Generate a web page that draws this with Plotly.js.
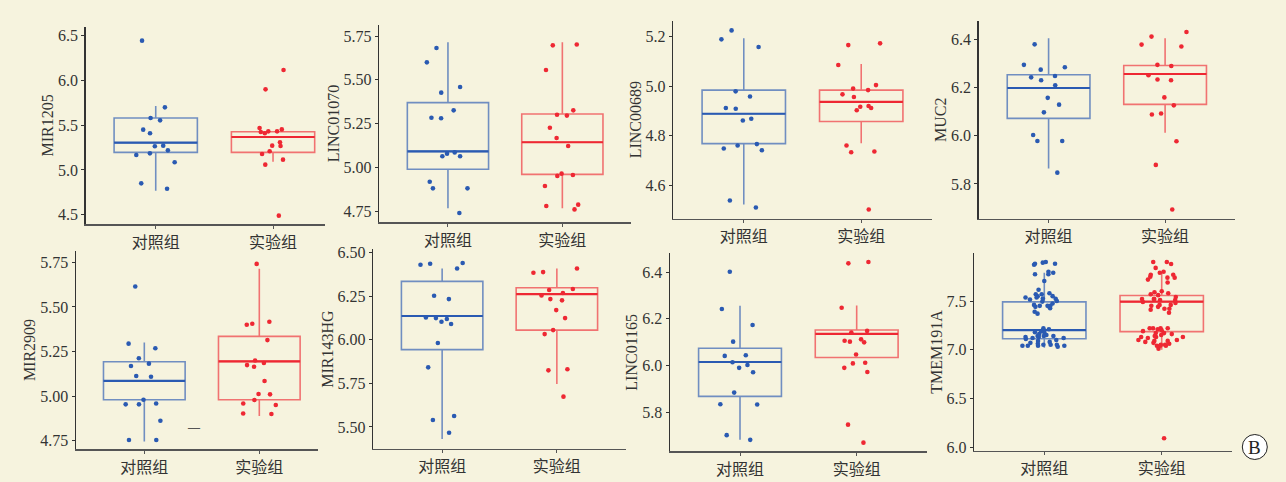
<!DOCTYPE html>
<html>
<head>
<meta charset="utf-8">
<script src="https://cdn.plot.ly/plotly-3.0.1.min.js"></script>
<style>
  html, body { margin: 0; padding: 0; background: #ffffff; }
  #chart { width: 1286px; height: 482px; }
</style>
</head>
<body>
<div id="chart"></div>
<script>
// ---------------- DATA ----------------
const categories = ['对照组', '实验组'];
const genes = ['MIR1205', 'LINC01070', 'LINC00689', 'MUC2', 'MIR2909', 'MIR143HG', 'LINC01165', 'TMEM191A'];

// box stats: [lowerfence, q1, median, q3, upperfence]
const mir1205_ctrlBox = [4.768, 5.196, 5.304, 5.580, 5.714];
const mir1205_expBox  = [5.092, 5.196, 5.368, 5.427, 5.430];
const mir1205_ctrl = [6.444, 5.699, 5.580, 5.554, 5.450, 5.409, 5.271, 5.265, 5.219, 5.185, 5.167, 5.085, 4.850, 4.790];
const mir1205_exp  = [6.116, 5.900, 5.468, 5.453, 5.431, 5.431, 5.424, 5.409, 5.308, 5.271, 5.267, 5.208, 5.178, 5.115, 5.059, 4.489];

const linc01070_ctrlBox = [4.767, 4.990, 5.092, 5.370, 5.714];
const linc01070_expBox  = [4.767, 4.961, 5.144, 5.305, 5.714];
const linc01070_ctrl = [5.682, 5.600, 5.459, 5.427, 5.326, 5.284, 5.281, 5.086, 5.079, 5.064, 5.064, 4.919, 4.881, 4.881, 4.740];
const linc01070_exp  = [5.702, 5.697, 5.556, 5.326, 5.301, 5.296, 5.227, 5.168, 5.123, 4.965, 4.957, 4.952, 4.894, 4.788, 4.780, 4.761];

const linc00689_ctrlBox = [4.524, 4.769, 4.889, 4.984, 5.192];
const linc00689_expBox  = [4.770, 4.858, 4.937, 4.984, 5.089];
const linc00689_ctrl = [5.224, 5.188, 5.157, 4.979, 4.958, 4.912, 4.909, 4.869, 4.862, 4.767, 4.761, 4.749, 4.742, 4.540, 4.512];
const linc00689_exp  = [5.172, 5.165, 5.085, 5.004, 4.990, 4.984, 4.967, 4.956, 4.920, 4.917, 4.912, 4.903, 4.761, 4.737, 4.734, 4.504];

const muc2_ctrlBox = [5.864, 6.072, 6.198, 6.253, 6.404];
const muc2_expBox  = [6.012, 6.130, 6.256, 6.291, 6.404];
const muc2_ctrl = [6.379, 6.294, 6.284, 6.274, 6.248, 6.242, 6.230, 6.209, 6.157, 6.129, 6.097, 6.003, 5.978, 5.978, 5.847];
const muc2_exp  = [6.430, 6.411, 6.378, 6.370, 6.294, 6.289, 6.251, 6.233, 6.230, 6.159, 6.126, 6.092, 6.088, 5.977, 5.879, 5.694];

const mir2909_ctrlBox = [4.746, 4.980, 5.085, 5.193, 5.301];
const mir2909_expBox  = [4.888, 4.980, 5.195, 5.335, 5.714];
const mir2909_ctrl = [5.614, 5.294, 5.268, 5.212, 5.182, 5.169, 5.113, 5.109, 4.980, 4.959, 4.954, 4.954, 4.862, 4.754, 4.754];
const mir2909_exp  = [5.741, 5.417, 5.406, 5.400, 5.314, 5.200, 5.186, 5.174, 5.165, 5.085, 5.012, 5.010, 4.978, 4.959, 4.950, 4.903, 4.900];

const mir143hg_ctrlBox = [5.431, 5.944, 6.137, 6.336, 6.410];
const mir143hg_expBox  = [5.747, 6.056, 6.263, 6.299, 6.410];
const mir143hg_ctrl = [6.441, 6.437, 6.431, 6.410, 6.253, 6.234, 6.129, 6.125, 6.120, 6.104, 6.091, 5.982, 5.842, 5.563, 5.540, 5.467];
const mir143hg_exp  = [6.410, 6.389, 6.385, 6.292, 6.286, 6.269, 6.255, 6.234, 6.227, 6.171, 6.125, 6.056, 6.033, 5.831, 5.825, 5.674];

const linc01165_ctrlBox = [5.682, 5.868, 6.015, 6.074, 6.256];
const linc01165_expBox  = [6.034, 6.034, 6.135, 6.152, 6.257];
const linc01165_ctrl = [6.401, 6.242, 6.173, 6.102, 6.044, 6.041, 6.014, 6.002, 5.990, 5.971, 5.884, 5.834, 5.833, 5.702, 5.682];
const linc01165_exp  = [6.443, 6.437, 6.247, 6.148, 6.141, 6.112, 6.106, 6.102, 6.099, 6.047, 6.012, 6.009, 5.990, 5.972, 5.747, 5.670];

const tmem191a_ctrlBox = [7.020, 7.112, 7.200, 7.491, 7.790];
const tmem191a_expBox  = [7.000, 7.185, 7.493, 7.556, 7.795];
const tmem191a_ctrl = [7.900, 7.894, 7.883, 7.883, 7.873, 7.800, 7.790, 7.775, 7.775, 7.706, 7.616, 7.579, 7.569, 7.569,
  7.550, 7.549, 7.536, 7.536, 7.525, 7.522, 7.515, 7.500, 7.494, 7.474, 7.460, 7.450, 7.450, 7.450, 7.440, 7.426, 7.390, 7.370,
  7.220, 7.210, 7.190, 7.180, 7.180, 7.160, 7.150, 7.140, 7.140, 7.140, 7.130, 7.130, 7.120, 7.120, 7.110, 7.100, 7.090, 7.080,
  7.070, 7.060, 7.050, 7.050, 7.050, 7.040, 7.040, 7.040, 7.040, 7.030];
const tmem191a_exp = [7.900, 7.900, 7.880, 7.840, 7.800, 7.790, 7.770, 7.770, 7.750, 7.740, 7.740, 7.720, 7.690, 7.600,
  7.590, 7.580, 7.570, 7.560, 7.540, 7.520, 7.520, 7.520, 7.510, 7.510, 7.490, 7.480, 7.460, 7.460, 7.450, 7.440, 7.420, 7.420,
  7.410, 7.380, 7.220, 7.220, 7.220, 7.220, 7.210, 7.200, 7.190, 7.170, 7.170, 7.160, 7.150, 7.140, 7.130, 7.130, 7.130, 7.120,
  7.100, 7.100, 7.090, 7.090, 7.080, 7.070, 7.060, 7.050, 7.050, 7.040, 7.040, 7.040, 7.010, 6.090];

// ---------------- LAYOUT CONFIG ----------------
const W = 1286, H = 482;
const panels = [
  {gene: genes[0], c: mir1205_ctrl,   e: mir1205_exp,   cb: mir1205_ctrlBox,   eb: mir1205_expBox,   dtick: 0.5,  fmt: '.1f', yr: [4.396, 6.60],  xr: [-0.597, 1.443], px: [85.7, 325, 26.7, 224]},
  {gene: genes[1], c: linc01070_ctrl, e: linc01070_exp, cb: linc01070_ctrlBox, eb: linc01070_expBox, dtick: 0.25, fmt: '.2f', yr: [4.689, 5.813], xr: [-0.6, 1.6],    px: [379.3, 631, 25, 222]},
  {gene: genes[2], c: linc00689_ctrl, e: linc00689_exp, cb: linc00689_ctrlBox, eb: linc00689_expBox, dtick: 0.2,  fmt: '.1f', yr: [4.467, 5.263], xr: [-0.6, 1.6],    px: [673.3, 931.7, 20.7, 218.7]},
  {gene: genes[3], c: muc2_ctrl,      e: muc2_exp,      cb: muc2_ctrlBox,      eb: muc2_expBox,      dtick: 0.2,  fmt: '.1f', yr: [5.656, 6.477], xr: [-0.6, 1.6],    px: [978.7, 1235, 20.7, 218.7]},
  {gene: genes[4], c: mir2909_ctrl,   e: mir2909_exp,   cb: mir2909_ctrlBox,   eb: mir2909_expBox,   dtick: 0.25, fmt: '.2f', yr: [4.702, 5.815], xr: [-0.594, 1.513], px: [76, 318.3, 250.7, 449.3]},
  {gene: genes[5], c: mir143hg_ctrl,  e: mir143hg_exp,  cb: mir143hg_ctrlBox,  eb: mir143hg_expBox,  dtick: 0.25, fmt: '.2f', yr: [5.375, 6.52],  xr: [-0.6, 1.6],    px: [373.3, 625.7, 249.3, 448.7]},
  {gene: genes[6], c: linc01165_ctrl, e: linc01165_exp, cb: linc01165_ctrlBox, eb: linc01165_expBox, dtick: 0.2,  fmt: '.1f', yr: [5.633, 6.48],  xr: [-0.6, 1.6],    px: [670, 926.7, 253.3, 451.3]},
  {gene: genes[7], c: tmem191a_ctrl,  e: tmem191a_exp,  cb: tmem191a_ctrlBox,  eb: tmem191a_expBox,  dtick: 0.5,  fmt: '.1f', yr: [5.962, 7.99],  xr: [-0.596, 1.596], px: [974.3, 1231.7, 253.3, 450.7]}
];

const BLUE = '#2a5ab2', BLUE_L = 'rgba(42,90,178,0.66)';
const RED = '#ee2833',  RED_L = 'rgba(238,40,51,0.64)';
const serif = "'Liberation Serif', 'Times New Roman', serif";
const cjk = "'Liberation Serif', 'Noto Sans CJK SC', serif";
const BOXW = 0.71;

const traces = [];
const layout = {
  width: W, height: H,
  margin: {l: 0, r: 0, t: 0, b: 0},
  paper_bgcolor: '#f6f3de',
  plot_bgcolor: '#f6f3de',
  showlegend: false,
  boxmode: 'overlay',
  annotations: [],
  shapes: []
};

panels.forEach((p, i) => {
  const s = i === 0 ? '' : String(i + 1);
  const xa = 'x' + s, ya = 'y' + s;
  [[p.cb, p.c, categories[0], BLUE, BLUE_L], [p.eb, p.e, categories[1], RED, RED_L]].forEach(([b, pts, cat, col, colL]) => {
    // box outline + whiskers
    traces.push({
      type: 'box', x: [cat], lowerfence: [b[0]], q1: [b[1]], median: [b[2]], q3: [b[3]], upperfence: [b[4]],
      xaxis: xa, yaxis: ya, width: BOXW, whiskerwidth: 0, boxpoints: false,
      line: {color: colL, width: 1.6}, fillcolor: 'rgba(0,0,0,0)', hoverinfo: 'skip'
    });
    // median line (solid)
    traces.push({
      type: 'box', x: [cat], lowerfence: [b[2]], q1: [b[2]], median: [b[2]], q3: [b[2]], upperfence: [b[2]],
      xaxis: xa, yaxis: ya, width: BOXW, whiskerwidth: 0, boxpoints: false,
      line: {color: col, width: 2.2}, fillcolor: 'rgba(0,0,0,0)', hoverinfo: 'skip'
    });
    // jittered points
    traces.push({
      type: 'box', x: pts.map(() => cat), y: pts,
      xaxis: xa, yaxis: ya, width: BOXW, boxpoints: 'all', jitter: 0.62, pointpos: 0,
      line: {color: 'rgba(0,0,0,0)', width: 0}, fillcolor: 'rgba(0,0,0,0)',
      marker: {color: col, size: 4.6, line: {width: 0}}
    });
  });

  const [x0, x1, y0, y1] = p.px;
  layout['xaxis' + s] = {
    domain: [x0 / W, x1 / W], range: p.xr, type: 'category',
    categoryorder: 'array', categoryarray: categories, anchor: ya,
    showline: true, linecolor: '#555', linewidth: 1.5,
    ticks: 'outside', ticklen: 3, tickcolor: '#555', tickwidth: 1,
    showgrid: false, zeroline: false, fixedrange: true,
    tickfont: {family: cjk, size: 16, color: '#333'}
  };
  layout['yaxis' + s] = {
    domain: [1 - y1 / H, 1 - y0 / H], range: p.yr, anchor: xa,
    tick0: 0, dtick: p.dtick, tickformat: p.fmt,
    showline: true, linecolor: '#333', linewidth: 1.5,
    ticks: 'outside', ticklen: 3, tickcolor: '#333', tickwidth: 1,
    showgrid: false, zeroline: false, fixedrange: true,
    tickfont: {family: serif, size: 16, color: '#333'},
    title: {text: p.gene, font: {family: serif, size: 16, color: '#333'}, standoff: 0}
  };
});

// stray dash in MIR2909 panel
layout.annotations.push({xref: 'x5', yref: 'y5', x: 0.435, y: 4.828, text: '<b>—</b>', showarrow: false,
  font: {family: serif, size: 12, color: '#555'}});

// circled "B"
layout.shapes.push({type: 'circle', xref: 'paper', yref: 'paper',
  x0: 1242.3 / W, x1: 1267.3 / W, y0: 1 - 459.5 / H, y1: 1 - 434.5 / H,
  line: {color: '#222', width: 1}, fillcolor: '#ffffff'});
layout.annotations.push({xref: 'paper', yref: 'paper', x: 1254.8 / W, y: 1 - 447 / H, text: 'B',
  showarrow: false, xanchor: 'center', yanchor: 'middle', font: {family: serif, size: 19, color: '#222'}});

Plotly.newPlot('chart', traces, layout, {staticPlot: true, displayModeBar: false});
</script>
</body>
</html>
